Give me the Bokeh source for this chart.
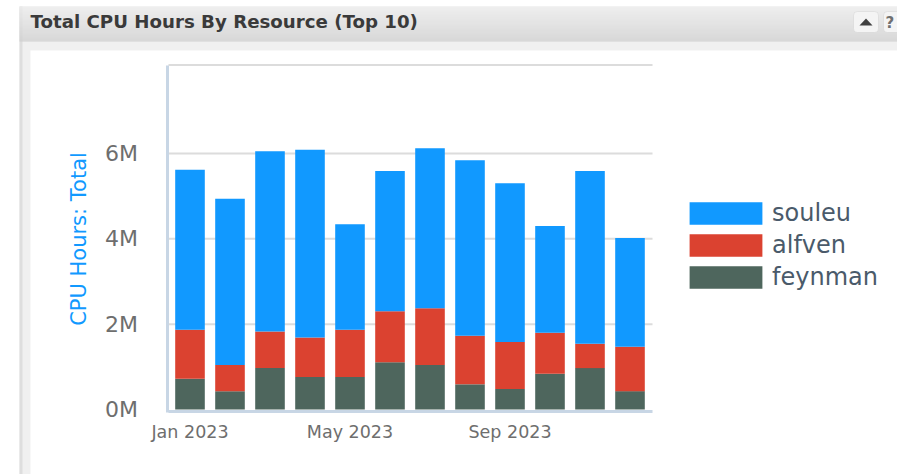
from bokeh.plotting import figure
from bokeh.embed import file_html
from bokeh.resources import INLINE
from bokeh.models import (ColumnDataSource, FixedTicker, Range1d, BoxAnnotation, Label,
                          Legend, LegendItem, PolyAnnotation)

months = ["Jan 2023", "Feb 2023", "Mar 2023", "Apr 2023", "May 2023", "Jun 2023",
          "Jul 2023", "Aug 2023", "Sep 2023", "Oct 2023", "Nov 2023", "Dec 2023"]
feynman = [0.72, 0.43, 0.97, 0.76, 0.76, 1.11, 1.04, 0.59, 0.48, 0.84, 0.97, 0.43]
alfven = [1.15, 0.61, 0.86, 0.93, 1.11, 1.19, 1.33, 1.14, 1.10, 0.96, 0.57, 1.04]
souleu = [3.75, 3.90, 4.22, 4.40, 2.47, 3.29, 3.75, 4.11, 3.72, 2.50, 4.05, 2.55]
series_names = ["feynman", "alfven", "souleu"]
series_colors = ["#4E665D", "#DB4230", "#1199FF"]
y_ticks = [0, 2, 4, 6]
x_tick_months = [0, 4, 8]

W, H = 897, 474
X0, DX = 189.5, 40.0     # canvas pixel of first month, pixels per month
Y0, DY = 409.0, 42.67    # canvas pixel of zero, pixels per million
LEFT, RIGHT = 168, 652   # plot area edges in canvas pixels
TOP = 64.5


def xd(px):
    return (px - X0) / DX


def yd(py):
    return (Y0 - py) / DY


p = figure(width=W, height=H, output_backend="svg", toolbar_location=None,
           x_range=Range1d(xd(0), xd(W)), y_range=Range1d(yd(H), yd(0)),
           min_border=0, min_border_left=0, min_border_right=0, min_border_top=0, min_border_bottom=0,
           background_fill_color="white", border_fill_color="white", outline_line_color=None)


def box(l, t, r, b, color):
    p.add_layout(BoxAnnotation(left=l, right=r, top=t, bottom=b,
                               left_units="canvas", right_units="canvas",
                               top_units="canvas", bottom_units="canvas",
                               fill_color=color, fill_alpha=1.0, line_alpha=0, level="image"))


# panel chrome
box(19, 6, 897, 474, "#F0F0F0")
box(19, 6, 22, 474, "#DEDEDE")
box(30, 50, 897, 474, "#FFFFFF")
for y in range(6, 41):
    g = int(238 - (238 - 208) * (y - 6) / 34)
    box(19, y, 897, y + 1, "#%02X%02X%02X" % (g, g, g))

# header buttons
for l, r in [(853, 878), (883, 910)]:
    p.add_layout(BoxAnnotation(left=l, right=r, top=11, bottom=32,
                               left_units="canvas", right_units="canvas",
                               top_units="canvas", bottom_units="canvas",
                               fill_color="#F4F4F4", fill_alpha=1, line_color="#C0C0C0",
                               line_width=1, border_radius=4, level="underlay"))
p.add_layout(PolyAnnotation(xs=[859, 872, 865.5], ys=[25, 25, 18],
                            xs_units="canvas", ys_units="canvas",
                            fill_color="#404040", fill_alpha=1, line_alpha=0))
p.add_layout(Label(x=885, y=13, x_units="canvas", y_units="canvas", text="?",
                   text_font="DejaVu Sans", text_font_style="bold", text_font_size="15px",
                   text_color="#707070", text_baseline="top"))
p.add_layout(Label(x=30, y=10, x_units="canvas", y_units="canvas",
                   text="Total CPU Hours By Resource (Top 10)",
                   text_font="DejaVu Sans", text_font_style="bold", text_font_size="18.2px",
                   text_color="#3A3A3A", text_baseline="top"))

# plot area lines (the grid's own lines would span the whole canvas here)
grid_y = [2, 4, 6, yd(TOP)]
p.segment(x0=[xd(LEFT)] * 4, x1=[xd(RIGHT)] * 4, y0=grid_y, y1=grid_y,
          line_color="#DCDCDC", line_width=2, level="underlay")

# bars
xs = list(range(len(months)))
src = ColumnDataSource(dict(x=xs, feynman=feynman, alfven=alfven, souleu=souleu))
rs = p.vbar_stack(series_names, x="x", width=0.74, source=src, color=series_colors, line_alpha=0)

# axes, placed inside the full-canvas frame
p.xaxis.fixed_location = yd(Y0 + 1.5)
p.xaxis.bounds = (xd(LEFT), xd(RIGHT))
p.xaxis.ticker = FixedTicker(ticks=x_tick_months)
p.xaxis.major_label_overrides = {i: months[i] for i in x_tick_months}
p.xaxis.major_label_text_font = "DejaVu Sans"
p.xaxis.major_label_text_font_size = "17.5px"
p.xaxis.major_label_text_color = "#6E6E6E"
p.xaxis.major_label_standoff = 5
p.xaxis.major_tick_line_color = None
p.xaxis.minor_tick_line_color = None
p.xaxis.axis_line_color = "#C8D6E5"
p.xaxis.axis_line_width = 3

p.yaxis.fixed_location = xd(LEFT - 1.5)
p.yaxis.bounds = (yd(Y0 + 3), yd(TOP))
p.yaxis.ticker = FixedTicker(ticks=y_ticks)
p.yaxis.major_label_overrides = {t: f"{t}M" for t in y_ticks}
p.yaxis.major_label_text_font = "DejaVu Sans"
p.yaxis.major_label_text_font_size = "22px"
p.yaxis.major_label_text_color = "#6E6E6E"
p.yaxis.major_label_standoff = 23
p.yaxis.major_tick_line_color = None
p.yaxis.minor_tick_line_color = None
p.yaxis.axis_line_color = "#C8D6E5"
p.yaxis.axis_line_width = 3
p.yaxis.axis_label = "CPU Hours: Total"
p.yaxis.axis_label_text_font = "DejaVu Sans"
p.yaxis.axis_label_text_font_style = "normal"
p.yaxis.axis_label_text_font_size = "21px"
p.yaxis.axis_label_text_color = "#1199FF"
p.yaxis.axis_label_standoff = 12

p.xgrid.visible = False
p.ygrid.visible = False

# legend
items = [LegendItem(label=n, renderers=[r]) for n, r in zip(series_names[::-1], rs[::-1])]
legend = Legend(items=items, location=(680, H - 291), orientation="vertical",
                glyph_width=91, glyph_height=28, spacing=4, label_standoff=1,
                padding=0, margin=0, border_line_color=None, background_fill_alpha=0,
                label_text_font="DejaVu Sans", label_text_font_size="24px",
                label_text_color="#4A5A6A", label_height=28)
p.add_layout(legend, "center")

open("out.html", "w").write(file_html(p, INLINE))
